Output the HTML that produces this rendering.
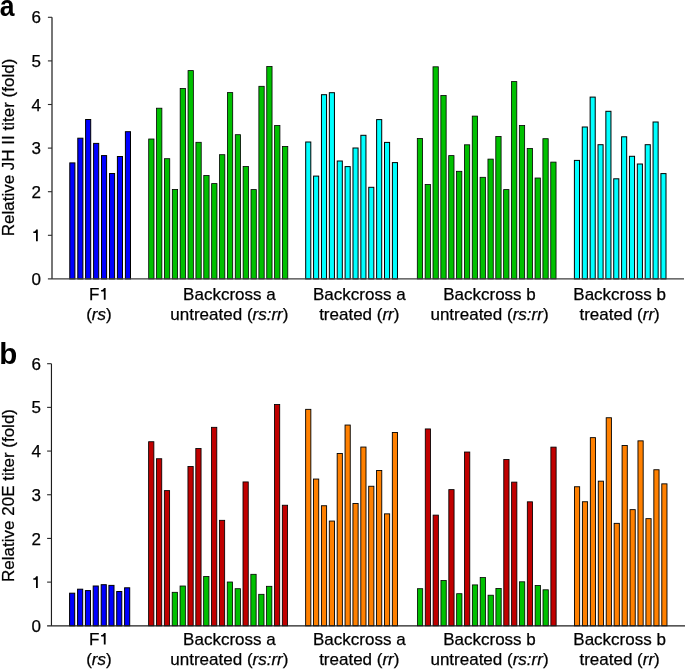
<!DOCTYPE html>
<html><head><meta charset="utf-8"><title>Relative JH II and 20E titers</title>
<style>
html,body{margin:0;padding:0;background:#fff;}
body{width:685px;height:669px;overflow:hidden;}
svg{display:block;will-change:transform;}
.t{font-family:"Liberation Sans",sans-serif;font-size:17px;fill:#000;stroke:#000;stroke-width:0.25px;}
.L{font-family:"Liberation Sans",sans-serif;font-size:29.5px;font-weight:bold;fill:#000;}
</style></head>
<body>
<svg width="685" height="669" viewBox="0 0 685 669">
<rect width="685" height="669" fill="#fff"/>
<rect x="69.80" y="162.90" width="5.10" height="116.00" fill="#0000ff" stroke="#000" stroke-width="1.0"/>
<rect x="77.80" y="138.20" width="5.10" height="140.70" fill="#0000ff" stroke="#000" stroke-width="1.0"/>
<rect x="85.60" y="119.50" width="5.10" height="159.40" fill="#0000ff" stroke="#000" stroke-width="1.0"/>
<rect x="93.60" y="143.40" width="5.10" height="135.50" fill="#0000ff" stroke="#000" stroke-width="1.0"/>
<rect x="101.50" y="155.60" width="5.10" height="123.30" fill="#0000ff" stroke="#000" stroke-width="1.0"/>
<rect x="109.50" y="173.50" width="5.10" height="105.40" fill="#0000ff" stroke="#000" stroke-width="1.0"/>
<rect x="117.40" y="156.50" width="5.10" height="122.40" fill="#0000ff" stroke="#000" stroke-width="1.0"/>
<rect x="125.40" y="131.70" width="5.10" height="147.20" fill="#0000ff" stroke="#000" stroke-width="1.0"/>
<rect x="148.70" y="139.00" width="5.30" height="139.90" fill="#00c000" stroke="#000" stroke-width="0.8"/>
<rect x="156.57" y="108.20" width="5.30" height="170.70" fill="#00c000" stroke="#000" stroke-width="0.8"/>
<rect x="164.44" y="158.70" width="5.30" height="120.20" fill="#00c000" stroke="#000" stroke-width="0.8"/>
<rect x="172.31" y="189.40" width="5.30" height="89.50" fill="#00c000" stroke="#000" stroke-width="0.8"/>
<rect x="180.18" y="88.50" width="5.30" height="190.40" fill="#00c000" stroke="#000" stroke-width="0.8"/>
<rect x="188.05" y="70.60" width="5.30" height="208.30" fill="#00c000" stroke="#000" stroke-width="0.8"/>
<rect x="195.92" y="142.30" width="5.30" height="136.60" fill="#00c000" stroke="#000" stroke-width="0.8"/>
<rect x="203.79" y="175.50" width="5.30" height="103.40" fill="#00c000" stroke="#000" stroke-width="0.8"/>
<rect x="211.66" y="183.60" width="5.30" height="95.30" fill="#00c000" stroke="#000" stroke-width="0.8"/>
<rect x="219.53" y="154.70" width="5.30" height="124.20" fill="#00c000" stroke="#000" stroke-width="0.8"/>
<rect x="227.40" y="92.60" width="5.30" height="186.30" fill="#00c000" stroke="#000" stroke-width="0.8"/>
<rect x="235.27" y="134.70" width="5.30" height="144.20" fill="#00c000" stroke="#000" stroke-width="0.8"/>
<rect x="243.14" y="166.50" width="5.30" height="112.40" fill="#00c000" stroke="#000" stroke-width="0.8"/>
<rect x="251.01" y="189.60" width="5.30" height="89.30" fill="#00c000" stroke="#000" stroke-width="0.8"/>
<rect x="258.88" y="86.30" width="5.30" height="192.60" fill="#00c000" stroke="#000" stroke-width="0.8"/>
<rect x="266.75" y="66.50" width="5.30" height="212.40" fill="#00c000" stroke="#000" stroke-width="0.8"/>
<rect x="274.62" y="125.50" width="5.30" height="153.40" fill="#00c000" stroke="#000" stroke-width="0.8"/>
<rect x="282.49" y="146.40" width="5.30" height="132.50" fill="#00c000" stroke="#000" stroke-width="0.8"/>
<rect x="305.70" y="142.00" width="5.10" height="136.90" fill="#00ffff" stroke="#000" stroke-width="1.0"/>
<rect x="313.58" y="176.10" width="5.10" height="102.80" fill="#00ffff" stroke="#000" stroke-width="1.0"/>
<rect x="321.46" y="94.70" width="5.10" height="184.20" fill="#00ffff" stroke="#000" stroke-width="1.0"/>
<rect x="329.34" y="92.70" width="5.10" height="186.20" fill="#00ffff" stroke="#000" stroke-width="1.0"/>
<rect x="337.22" y="161.00" width="5.10" height="117.90" fill="#00ffff" stroke="#000" stroke-width="1.0"/>
<rect x="345.10" y="166.60" width="5.10" height="112.30" fill="#00ffff" stroke="#000" stroke-width="1.0"/>
<rect x="352.98" y="148.00" width="5.10" height="130.90" fill="#00ffff" stroke="#000" stroke-width="1.0"/>
<rect x="360.86" y="135.30" width="5.10" height="143.60" fill="#00ffff" stroke="#000" stroke-width="1.0"/>
<rect x="368.74" y="187.30" width="5.10" height="91.60" fill="#00ffff" stroke="#000" stroke-width="1.0"/>
<rect x="376.62" y="119.60" width="5.10" height="159.30" fill="#00ffff" stroke="#000" stroke-width="1.0"/>
<rect x="384.50" y="142.40" width="5.10" height="136.50" fill="#00ffff" stroke="#000" stroke-width="1.0"/>
<rect x="392.38" y="162.60" width="5.10" height="116.30" fill="#00ffff" stroke="#000" stroke-width="1.0"/>
<rect x="417.30" y="138.50" width="5.30" height="140.40" fill="#00c000" stroke="#000" stroke-width="0.8"/>
<rect x="425.15" y="184.50" width="5.30" height="94.40" fill="#00c000" stroke="#000" stroke-width="0.8"/>
<rect x="433.00" y="66.80" width="5.30" height="212.10" fill="#00c000" stroke="#000" stroke-width="0.8"/>
<rect x="440.85" y="95.50" width="5.30" height="183.40" fill="#00c000" stroke="#000" stroke-width="0.8"/>
<rect x="448.70" y="155.60" width="5.30" height="123.30" fill="#00c000" stroke="#000" stroke-width="0.8"/>
<rect x="456.55" y="171.30" width="5.30" height="107.60" fill="#00c000" stroke="#000" stroke-width="0.8"/>
<rect x="464.40" y="144.80" width="5.30" height="134.10" fill="#00c000" stroke="#000" stroke-width="0.8"/>
<rect x="472.25" y="116.10" width="5.30" height="162.80" fill="#00c000" stroke="#000" stroke-width="0.8"/>
<rect x="480.10" y="177.30" width="5.30" height="101.60" fill="#00c000" stroke="#000" stroke-width="0.8"/>
<rect x="487.95" y="159.10" width="5.30" height="119.80" fill="#00c000" stroke="#000" stroke-width="0.8"/>
<rect x="495.80" y="136.50" width="5.30" height="142.40" fill="#00c000" stroke="#000" stroke-width="0.8"/>
<rect x="503.65" y="189.60" width="5.30" height="89.30" fill="#00c000" stroke="#000" stroke-width="0.8"/>
<rect x="511.50" y="81.60" width="5.30" height="197.30" fill="#00c000" stroke="#000" stroke-width="0.8"/>
<rect x="519.35" y="125.50" width="5.30" height="153.40" fill="#00c000" stroke="#000" stroke-width="0.8"/>
<rect x="527.20" y="148.40" width="5.30" height="130.50" fill="#00c000" stroke="#000" stroke-width="0.8"/>
<rect x="535.05" y="178.00" width="5.30" height="100.90" fill="#00c000" stroke="#000" stroke-width="0.8"/>
<rect x="542.90" y="138.70" width="5.30" height="140.20" fill="#00c000" stroke="#000" stroke-width="0.8"/>
<rect x="550.75" y="162.10" width="5.30" height="116.80" fill="#00c000" stroke="#000" stroke-width="0.8"/>
<rect x="574.40" y="160.40" width="5.10" height="118.50" fill="#00ffff" stroke="#000" stroke-width="1.0"/>
<rect x="582.26" y="127.00" width="5.10" height="151.90" fill="#00ffff" stroke="#000" stroke-width="1.0"/>
<rect x="590.13" y="97.10" width="5.10" height="181.80" fill="#00ffff" stroke="#000" stroke-width="1.0"/>
<rect x="598.00" y="144.70" width="5.10" height="134.20" fill="#00ffff" stroke="#000" stroke-width="1.0"/>
<rect x="605.86" y="111.30" width="5.10" height="167.60" fill="#00ffff" stroke="#000" stroke-width="1.0"/>
<rect x="613.73" y="178.80" width="5.10" height="100.10" fill="#00ffff" stroke="#000" stroke-width="1.0"/>
<rect x="621.59" y="136.80" width="5.10" height="142.10" fill="#00ffff" stroke="#000" stroke-width="1.0"/>
<rect x="629.45" y="156.30" width="5.10" height="122.60" fill="#00ffff" stroke="#000" stroke-width="1.0"/>
<rect x="637.32" y="164.00" width="5.10" height="114.90" fill="#00ffff" stroke="#000" stroke-width="1.0"/>
<rect x="645.18" y="144.70" width="5.10" height="134.20" fill="#00ffff" stroke="#000" stroke-width="1.0"/>
<rect x="653.05" y="122.00" width="5.10" height="156.90" fill="#00ffff" stroke="#000" stroke-width="1.0"/>
<rect x="660.91" y="173.60" width="5.10" height="105.30" fill="#00ffff" stroke="#000" stroke-width="1.0"/>
<line x1="52" y1="17.30" x2="52" y2="278.90" stroke="#3c3c3c" stroke-width="1.4"/>
<line x1="47.9" y1="278.90" x2="684" y2="278.90" stroke="#3c3c3c" stroke-width="1.4"/>
<text x="41" y="285.00" text-anchor="end" class="t">0</text>
<line x1="47.9" y1="235.30" x2="52" y2="235.30" stroke="#2a2a2a" stroke-width="1.1"/>
<path transform="translate(31.55 241.15)" d="M6.25 0H4.45V-8.2H1.75V-9.65C3.3-9.7 4.3-10.4 4.6-11.7H6.25Z" fill="#000"/>
<line x1="47.9" y1="191.70" x2="52" y2="191.70" stroke="#2a2a2a" stroke-width="1.1"/>
<text x="41" y="197.80" text-anchor="end" class="t">2</text>
<line x1="47.9" y1="148.10" x2="52" y2="148.10" stroke="#2a2a2a" stroke-width="1.1"/>
<text x="41" y="154.20" text-anchor="end" class="t">3</text>
<line x1="47.9" y1="104.50" x2="52" y2="104.50" stroke="#2a2a2a" stroke-width="1.1"/>
<text x="41" y="110.60" text-anchor="end" class="t">4</text>
<line x1="47.9" y1="60.90" x2="52" y2="60.90" stroke="#2a2a2a" stroke-width="1.1"/>
<text x="41" y="67.00" text-anchor="end" class="t">5</text>
<line x1="47.9" y1="17.30" x2="52" y2="17.30" stroke="#2a2a2a" stroke-width="1.1"/>
<text x="41" y="23.40" text-anchor="end" class="t">6</text>
<text transform="translate(14.2 147.50) rotate(-90)" text-anchor="middle" class="t">Relative JH II titer (fold)</text>
<text transform="translate(-0.3 15.90) scale(0.9 1)" class="L">a</text>
<text x="88.98" y="299.60" class="t">F</text>
<path transform="translate(99.37 299.70)" d="M6.25 0H4.45V-8.2H1.75V-9.65C3.3-9.7 4.3-10.4 4.6-11.7H6.25Z" fill="#000"/>
<text x="98.90" y="319.80" text-anchor="middle" class="t">(<tspan font-style='italic'>rs</tspan>)</text>
<text x="229.40" y="299.60" text-anchor="middle" class="t">Backcross a</text>
<text x="229.40" y="319.80" text-anchor="middle" class="t">untreated (<tspan font-style='italic'>rs:rr</tspan>)</text>
<text x="359.30" y="299.60" text-anchor="middle" class="t">Backcross a</text>
<text x="359.30" y="319.80" text-anchor="middle" class="t">treated (<tspan font-style='italic'>rr</tspan>)</text>
<text x="489.50" y="299.60" text-anchor="middle" class="t">Backcross b</text>
<text x="489.50" y="319.80" text-anchor="middle" class="t">untreated (<tspan font-style='italic'>rs:rr</tspan>)</text>
<text x="619.60" y="299.60" text-anchor="middle" class="t">Backcross b</text>
<text x="619.60" y="319.80" text-anchor="middle" class="t">treated (<tspan font-style='italic'>rr</tspan>)</text>
<rect x="69.60" y="593.20" width="5.10" height="32.60" fill="#0000ff" stroke="#000" stroke-width="1.0"/>
<rect x="77.60" y="589.20" width="5.10" height="36.60" fill="#0000ff" stroke="#000" stroke-width="1.0"/>
<rect x="85.40" y="590.60" width="5.10" height="35.20" fill="#0000ff" stroke="#000" stroke-width="1.0"/>
<rect x="93.20" y="586.00" width="5.10" height="39.80" fill="#0000ff" stroke="#000" stroke-width="1.0"/>
<rect x="101.20" y="584.70" width="5.10" height="41.10" fill="#0000ff" stroke="#000" stroke-width="1.0"/>
<rect x="108.90" y="585.40" width="5.10" height="40.40" fill="#0000ff" stroke="#000" stroke-width="1.0"/>
<rect x="116.70" y="591.50" width="5.10" height="34.30" fill="#0000ff" stroke="#000" stroke-width="1.0"/>
<rect x="124.60" y="587.80" width="5.10" height="38.00" fill="#0000ff" stroke="#000" stroke-width="1.0"/>
<rect x="148.62" y="441.73" width="5.25" height="184.07" fill="#c00000" stroke="#000" stroke-width="0.85"/>
<rect x="156.49" y="458.73" width="5.25" height="167.07" fill="#c00000" stroke="#000" stroke-width="0.85"/>
<rect x="164.35" y="490.62" width="5.25" height="135.17" fill="#c00000" stroke="#000" stroke-width="0.85"/>
<rect x="172.19" y="592.30" width="5.30" height="33.50" fill="#00c000" stroke="#000" stroke-width="0.8"/>
<rect x="180.06" y="586.00" width="5.30" height="39.80" fill="#00c000" stroke="#000" stroke-width="0.8"/>
<rect x="187.95" y="466.43" width="5.25" height="159.37" fill="#c00000" stroke="#000" stroke-width="0.85"/>
<rect x="195.81" y="448.53" width="5.25" height="177.27" fill="#c00000" stroke="#000" stroke-width="0.85"/>
<rect x="203.66" y="576.40" width="5.30" height="49.40" fill="#00c000" stroke="#000" stroke-width="0.8"/>
<rect x="211.55" y="427.32" width="5.25" height="198.47" fill="#c00000" stroke="#000" stroke-width="0.85"/>
<rect x="219.41" y="520.32" width="5.25" height="105.47" fill="#c00000" stroke="#000" stroke-width="0.85"/>
<rect x="227.25" y="582.00" width="5.30" height="43.80" fill="#00c000" stroke="#000" stroke-width="0.8"/>
<rect x="235.11" y="588.70" width="5.30" height="37.10" fill="#00c000" stroke="#000" stroke-width="0.8"/>
<rect x="243.00" y="481.93" width="5.25" height="143.87" fill="#c00000" stroke="#000" stroke-width="0.85"/>
<rect x="250.84" y="574.30" width="5.30" height="51.50" fill="#00c000" stroke="#000" stroke-width="0.8"/>
<rect x="258.71" y="594.30" width="5.30" height="31.50" fill="#00c000" stroke="#000" stroke-width="0.8"/>
<rect x="266.57" y="586.30" width="5.30" height="39.50" fill="#00c000" stroke="#000" stroke-width="0.8"/>
<rect x="274.46" y="404.53" width="5.25" height="221.27" fill="#c00000" stroke="#000" stroke-width="0.85"/>
<rect x="282.33" y="505.23" width="5.25" height="120.57" fill="#c00000" stroke="#000" stroke-width="0.85"/>
<rect x="305.65" y="409.35" width="5.20" height="216.45" fill="#ff8000" stroke="#000" stroke-width="0.9"/>
<rect x="313.53" y="479.05" width="5.20" height="146.75" fill="#ff8000" stroke="#000" stroke-width="0.9"/>
<rect x="321.41" y="505.75" width="5.20" height="120.05" fill="#ff8000" stroke="#000" stroke-width="0.9"/>
<rect x="329.29" y="521.05" width="5.20" height="104.75" fill="#ff8000" stroke="#000" stroke-width="0.9"/>
<rect x="337.17" y="453.55" width="5.20" height="172.25" fill="#ff8000" stroke="#000" stroke-width="0.9"/>
<rect x="345.05" y="425.05" width="5.20" height="200.75" fill="#ff8000" stroke="#000" stroke-width="0.9"/>
<rect x="352.93" y="503.55" width="5.20" height="122.25" fill="#ff8000" stroke="#000" stroke-width="0.9"/>
<rect x="360.81" y="447.05" width="5.20" height="178.75" fill="#ff8000" stroke="#000" stroke-width="0.9"/>
<rect x="368.69" y="486.25" width="5.20" height="139.55" fill="#ff8000" stroke="#000" stroke-width="0.9"/>
<rect x="376.57" y="470.55" width="5.20" height="155.25" fill="#ff8000" stroke="#000" stroke-width="0.9"/>
<rect x="384.45" y="513.85" width="5.20" height="111.95" fill="#ff8000" stroke="#000" stroke-width="0.9"/>
<rect x="392.33" y="432.45" width="5.20" height="193.35" fill="#ff8000" stroke="#000" stroke-width="0.9"/>
<rect x="417.40" y="588.70" width="5.30" height="37.10" fill="#00c000" stroke="#000" stroke-width="0.8"/>
<rect x="425.28" y="428.93" width="5.25" height="196.87" fill="#c00000" stroke="#000" stroke-width="0.85"/>
<rect x="433.12" y="515.12" width="5.25" height="110.67" fill="#c00000" stroke="#000" stroke-width="0.85"/>
<rect x="440.95" y="580.50" width="5.30" height="45.30" fill="#00c000" stroke="#000" stroke-width="0.8"/>
<rect x="448.82" y="489.62" width="5.25" height="136.17" fill="#c00000" stroke="#000" stroke-width="0.85"/>
<rect x="456.65" y="593.70" width="5.30" height="32.10" fill="#00c000" stroke="#000" stroke-width="0.8"/>
<rect x="464.53" y="452.03" width="5.25" height="173.77" fill="#c00000" stroke="#000" stroke-width="0.85"/>
<rect x="472.35" y="584.90" width="5.30" height="40.90" fill="#00c000" stroke="#000" stroke-width="0.8"/>
<rect x="480.20" y="577.60" width="5.30" height="48.20" fill="#00c000" stroke="#000" stroke-width="0.8"/>
<rect x="488.05" y="595.20" width="5.30" height="30.60" fill="#00c000" stroke="#000" stroke-width="0.8"/>
<rect x="495.90" y="588.40" width="5.30" height="37.40" fill="#00c000" stroke="#000" stroke-width="0.8"/>
<rect x="503.78" y="459.53" width="5.25" height="166.27" fill="#c00000" stroke="#000" stroke-width="0.85"/>
<rect x="511.62" y="482.12" width="5.25" height="143.67" fill="#c00000" stroke="#000" stroke-width="0.85"/>
<rect x="519.45" y="581.80" width="5.30" height="44.00" fill="#00c000" stroke="#000" stroke-width="0.8"/>
<rect x="527.32" y="501.82" width="5.25" height="123.97" fill="#c00000" stroke="#000" stroke-width="0.85"/>
<rect x="535.15" y="585.50" width="5.30" height="40.30" fill="#00c000" stroke="#000" stroke-width="0.8"/>
<rect x="543.00" y="589.80" width="5.30" height="36.00" fill="#00c000" stroke="#000" stroke-width="0.8"/>
<rect x="550.88" y="447.12" width="5.25" height="178.67" fill="#c00000" stroke="#000" stroke-width="0.85"/>
<rect x="574.45" y="486.75" width="5.20" height="139.05" fill="#ff8000" stroke="#000" stroke-width="0.9"/>
<rect x="582.39" y="501.75" width="5.20" height="124.05" fill="#ff8000" stroke="#000" stroke-width="0.9"/>
<rect x="590.33" y="437.65" width="5.20" height="188.15" fill="#ff8000" stroke="#000" stroke-width="0.9"/>
<rect x="598.27" y="481.15" width="5.20" height="144.65" fill="#ff8000" stroke="#000" stroke-width="0.9"/>
<rect x="606.21" y="417.75" width="5.20" height="208.05" fill="#ff8000" stroke="#000" stroke-width="0.9"/>
<rect x="614.15" y="523.35" width="5.20" height="102.45" fill="#ff8000" stroke="#000" stroke-width="0.9"/>
<rect x="622.09" y="445.55" width="5.20" height="180.25" fill="#ff8000" stroke="#000" stroke-width="0.9"/>
<rect x="630.03" y="509.65" width="5.20" height="116.15" fill="#ff8000" stroke="#000" stroke-width="0.9"/>
<rect x="637.97" y="440.85" width="5.20" height="184.95" fill="#ff8000" stroke="#000" stroke-width="0.9"/>
<rect x="645.91" y="518.65" width="5.20" height="107.15" fill="#ff8000" stroke="#000" stroke-width="0.9"/>
<rect x="653.85" y="469.75" width="5.20" height="156.05" fill="#ff8000" stroke="#000" stroke-width="0.9"/>
<rect x="661.79" y="483.85" width="5.20" height="141.95" fill="#ff8000" stroke="#000" stroke-width="0.9"/>
<line x1="51.45" y1="363.70" x2="51.45" y2="625.80" stroke="#1e1e1e" stroke-width="1.15"/>
<line x1="47.1" y1="625.80" x2="685" y2="625.80" stroke="#1e1e1e" stroke-width="1.15"/>
<text x="41" y="631.90" text-anchor="end" class="t">0</text>
<line x1="47.1" y1="582.12" x2="51.45" y2="582.12" stroke="#2a2a2a" stroke-width="1.1"/>
<path transform="translate(31.55 587.97)" d="M6.25 0H4.45V-8.2H1.75V-9.65C3.3-9.7 4.3-10.4 4.6-11.7H6.25Z" fill="#000"/>
<line x1="47.1" y1="538.43" x2="51.45" y2="538.43" stroke="#2a2a2a" stroke-width="1.1"/>
<text x="41" y="544.53" text-anchor="end" class="t">2</text>
<line x1="47.1" y1="494.75" x2="51.45" y2="494.75" stroke="#2a2a2a" stroke-width="1.1"/>
<text x="41" y="500.85" text-anchor="end" class="t">3</text>
<line x1="47.1" y1="451.07" x2="51.45" y2="451.07" stroke="#2a2a2a" stroke-width="1.1"/>
<text x="41" y="457.17" text-anchor="end" class="t">4</text>
<line x1="47.1" y1="407.38" x2="51.45" y2="407.38" stroke="#2a2a2a" stroke-width="1.1"/>
<text x="41" y="413.48" text-anchor="end" class="t">5</text>
<line x1="47.1" y1="363.70" x2="51.45" y2="363.70" stroke="#2a2a2a" stroke-width="1.1"/>
<text x="41" y="369.80" text-anchor="end" class="t">6</text>
<text transform="translate(14.2 495.45) rotate(-90)" text-anchor="middle" class="t">Relative 20E titer (fold)</text>
<text x="-0.8" y="364.20" class="L">b</text>
<text x="88.98" y="644.50" class="t">F</text>
<path transform="translate(99.37 644.60)" d="M6.25 0H4.45V-8.2H1.75V-9.65C3.3-9.7 4.3-10.4 4.6-11.7H6.25Z" fill="#000"/>
<text x="98.90" y="664.80" text-anchor="middle" class="t">(<tspan font-style='italic'>rs</tspan>)</text>
<text x="229.40" y="644.50" text-anchor="middle" class="t">Backcross a</text>
<text x="229.40" y="664.80" text-anchor="middle" class="t">untreated (<tspan font-style='italic'>rs:rr</tspan>)</text>
<text x="359.30" y="644.50" text-anchor="middle" class="t">Backcross a</text>
<text x="359.30" y="664.80" text-anchor="middle" class="t">treated (<tspan font-style='italic'>rr</tspan>)</text>
<text x="489.50" y="644.50" text-anchor="middle" class="t">Backcross b</text>
<text x="489.50" y="664.80" text-anchor="middle" class="t">untreated (<tspan font-style='italic'>rs:rr</tspan>)</text>
<text x="619.60" y="644.50" text-anchor="middle" class="t">Backcross b</text>
<text x="619.60" y="664.80" text-anchor="middle" class="t">treated (<tspan font-style='italic'>rr</tspan>)</text>
</svg>
</body></html>
